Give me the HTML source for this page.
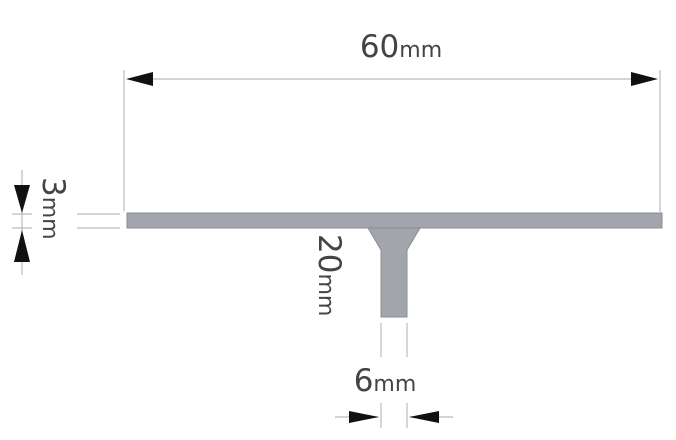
<!DOCTYPE html>
<html><head><meta charset="utf-8"><style>
html,body{margin:0;padding:0;background:#fff;width:676px;height:440px;overflow:hidden}
svg{display:block}
text{font-family:"DejaVu Sans","Liberation Sans",sans-serif;fill:#444}
</style></head><body>
<svg width="676" height="440" viewBox="0 0 676 440" xmlns="http://www.w3.org/2000/svg">
<g stroke="#bbb" stroke-width="1.2" fill="none">
<line x1="124" y1="70" x2="124" y2="211"/>
<line x1="660" y1="70" x2="660" y2="212"/>
<line x1="128" y1="79" x2="656" y2="79"/>
<line x1="77" y1="214" x2="120" y2="214"/>
<line x1="77" y1="228" x2="120" y2="228"/>
<line x1="22" y1="170" x2="22" y2="275"/>
<line x1="12" y1="214" x2="32" y2="214"/>
<line x1="12" y1="228" x2="32" y2="228"/>
<line x1="381" y1="323" x2="381" y2="357"/>
<line x1="407" y1="323" x2="407" y2="357"/>
<line x1="381" y1="403" x2="381" y2="428"/>
<line x1="407" y1="403" x2="407" y2="428"/>
<line x1="335" y1="417" x2="378" y2="417"/>
<line x1="410" y1="417" x2="453" y2="417"/>
</g>
<g fill="#111">
<polygon points="126,79 153,72 153,86"/>
<polygon points="658,79 631,72 631,86"/>
<polygon points="22,213 14,185 30,185"/>
<polygon points="22,230 14,262 30,262"/>
<polygon points="379,417 349,411 349,423"/>
<polygon points="409,417 439,411 439,423"/>
</g>
<rect x="127" y="213" width="535" height="15" fill="#a2a5ab" stroke="#8a8d92" stroke-width="1"/>
<polygon points="368,228 420,228 407,250 407,317 381,317 381,250" fill="#a2a5ab" stroke="#8a8d92" stroke-width="1"/>
<text x="401" y="57" text-anchor="middle" font-size="31">60<tspan font-size="22">mm</tspan></text>
<text x="385" y="391" text-anchor="middle" font-size="31">6<tspan font-size="22">mm</tspan></text>
<text transform="translate(43,177) rotate(90)" font-size="31">3<tspan font-size="22">mm</tspan></text>
<text transform="translate(319,234) rotate(90)" font-size="31">20<tspan font-size="22">mm</tspan></text>
</svg>
</body></html>
